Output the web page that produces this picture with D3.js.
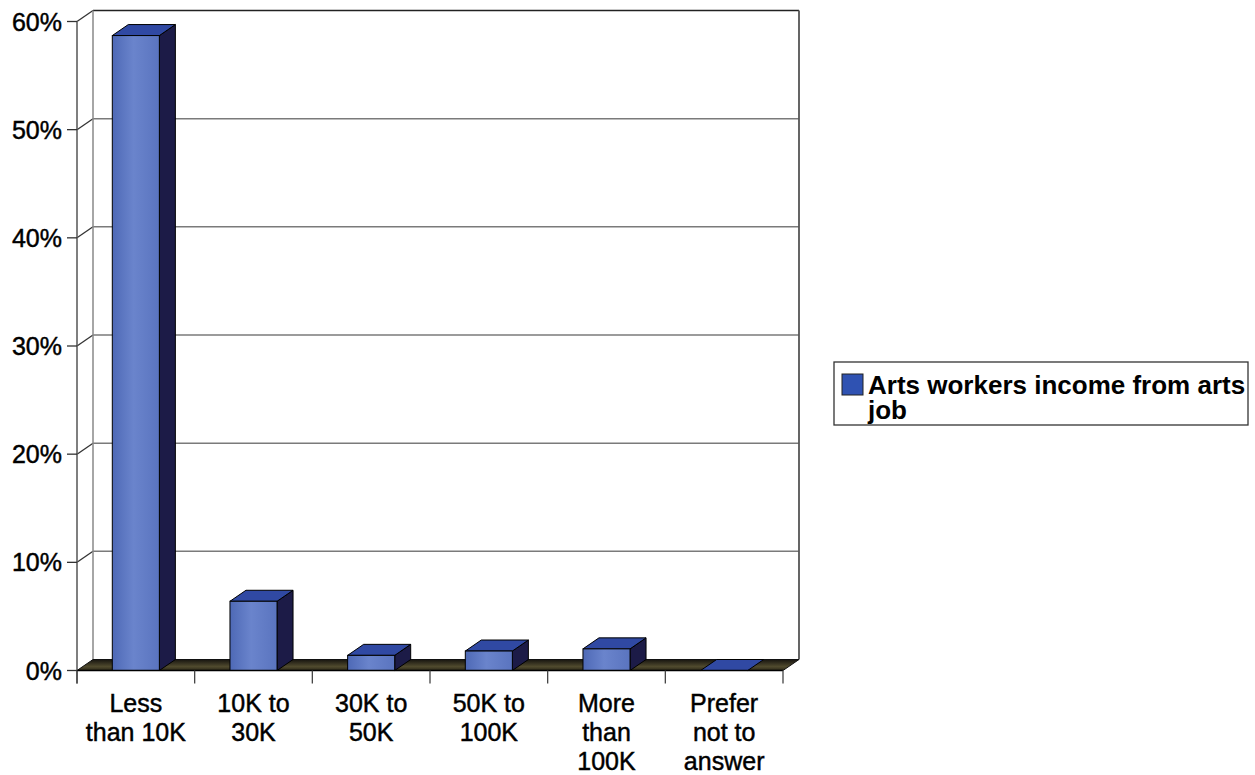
<!DOCTYPE html>
<html>
<head>
<meta charset="utf-8">
<script src="https://cdn.jsdelivr.net/npm/d3@7/dist/d3.min.js"></script>
<style>
  html, body { margin: 0; padding: 0; background: #ffffff; }
  svg { display: block; }
  text { font-family: "Liberation Sans", Arial, Helvetica, sans-serif; fill: #000; }
  .lbl { stroke: #000; stroke-width: 0.45px; }
</style>
</head>
<body>
<svg id="chart" width="1255" height="775"></svg>
<script>
// Income bands and the share of arts workers in each (percent)
const categories = [
  ["Less", "than 10K"],
  ["10K to", "30K"],
  ["30K to", "50K"],
  ["50K to", "100K"],
  ["More", "than", "100K"],
  ["Prefer", "not to", "answer"]
];
const values = [58.7, 6.4, 1.4, 1.8, 2.0, 0];
const yTicks = [0, 10, 20, 30, 40, 50, 60];
const seriesName = ["Arts workers income from arts", "job"];

const svg = d3.select("#chart");
const defs = svg.append("defs");

// 3D depth offset of the back wall relative to the front plane
const DX = 16, DY = -11;

const keys = categories.map((c, i) => i);
const x = d3.scaleBand().domain(keys).range([77, 783]).padding(0);
const y = d3.scaleLinear().domain([0, 60]).range([670.5, 21.5]);
const barW = x.bandwidth() * 0.4;

// gradients
const frontGrad = defs.append("linearGradient").attr("id", "frontGrad")
  .attr("x1", "0%").attr("x2", "100%").attr("y1", "0%").attr("y2", "0%");
frontGrad.append("stop").attr("offset", "0%").attr("stop-color", "#4e69b6");
frontGrad.append("stop").attr("offset", "45%").attr("stop-color", "#6a84cc");
frontGrad.append("stop").attr("offset", "100%").attr("stop-color", "#5a74bf");

const floorGrad = defs.append("linearGradient").attr("id", "floorGrad")
  .attr("x1", "0%").attr("x2", "0%").attr("y1", "0%").attr("y2", "100%");
floorGrad.append("stop").attr("offset", "0%").attr("stop-color", "#171510");
floorGrad.append("stop").attr("offset", "65%").attr("stop-color", "#514b2e");
floorGrad.append("stop").attr("offset", "100%").attr("stop-color", "#2a2718");

const x0 = x.range()[0], x1 = x.range()[1];
const yb = v => y(v) + DY;   // back-wall y for a value

// back wall gridlines and side-wall diagonals
const grid = svg.append("g");
yTicks.filter(t => t > 0 && t < 60).forEach(t => {
  grid.append("line").attr("x1", x0 + DX).attr("x2", x1 + DX)
    .attr("y1", yb(t)).attr("y2", yb(t))
    .attr("stroke", "#7a7a7a").attr("stroke-width", 1.5);
});
yTicks.filter(t => t > 0).forEach(t => {
  grid.append("line").attr("x1", x0).attr("y1", y(t))
    .attr("x2", x0 + DX).attr("y2", yb(t))
    .attr("stroke", "#333").attr("stroke-width", 1.3);
});
// back wall frame
grid.append("line").attr("x1", x0 + DX).attr("x2", x1 + DX)
  .attr("y1", yb(60)).attr("y2", yb(60)).attr("stroke", "#222").attr("stroke-width", 1.5);
grid.append("line").attr("x1", x0 + DX).attr("x2", x0 + DX)
  .attr("y1", yb(60)).attr("y2", yb(0)).attr("stroke", "#888").attr("stroke-width", 1.5);
grid.append("line").attr("x1", x1 + DX).attr("x2", x1 + DX)
  .attr("y1", yb(60)).attr("y2", yb(0)).attr("stroke", "#555").attr("stroke-width", 1.8);

// floor
svg.append("path")
  .attr("d", `M${x0},${y(0)} L${x0 + DX},${yb(0)} L${x1 + DX},${yb(0)} L${x1},${y(0)} Z`)
  .attr("fill", "url(#floorGrad)").attr("stroke", "#111").attr("stroke-width", 1);

// bars
const bars = svg.append("g").selectAll("g").data(values).join("g");
bars.each(function (v, i) {
  const g = d3.select(this);
  const left = x(i) + (x.bandwidth() - barW) / 2;
  const right = left + barW;
  const top = y(v), bottom = y(0);
  // right side face
  if (v > 0) {
    g.append("path")
      .attr("d", `M${right},${bottom} L${right + DX},${bottom + DY} L${right + DX},${top + DY} L${right},${top} Z`)
      .attr("fill", "#1c1b47").attr("stroke", "#000").attr("stroke-width", 1);
  }
  // top face
  g.append("path")
    .attr("d", `M${left},${top} L${left + DX},${top + DY} L${right + DX},${top + DY} L${right},${top} Z`)
    .attr("fill", "#3049a3").attr("stroke", "#000").attr("stroke-width", 1);
  // front face
  if (v > 0) {
    g.append("rect").attr("x", left).attr("y", top)
      .attr("width", barW).attr("height", bottom - top)
      .attr("fill", "url(#frontGrad)").attr("stroke", "#000").attr("stroke-width", 1);
  }
});

// front value axis
const axisG = svg.append("g");
axisG.append("line").attr("x1", x0).attr("x2", x0).attr("y1", y(60)).attr("y2", y(0) + 13)
  .attr("stroke", "#555").attr("stroke-width", 1.5);
yTicks.forEach(t => {
  axisG.append("line").attr("x1", x0 - 10).attr("x2", x0).attr("y1", y(t)).attr("y2", y(t))
    .attr("stroke", "#333").attr("stroke-width", 1.3);
  axisG.append("text").attr("class", "lbl").attr("x", 62).attr("y", y(t) + 9)
    .attr("text-anchor", "end").style("font-size", "25px")
    .text(t + "%");
});

// category axis
axisG.append("line").attr("x1", x0).attr("x2", x1).attr("y1", y(0)).attr("y2", y(0))
  .attr("stroke", "#000").attr("stroke-width", 1.5);
d3.range(keys.length + 1).forEach(k => {
  const xx = x0 + k * x.bandwidth();
  axisG.append("line").attr("x1", xx).attr("x2", xx).attr("y1", y(0)).attr("y2", y(0) + 13)
    .attr("stroke", "#444").attr("stroke-width", 1.3);
});
categories.forEach((lines, i) => {
  const t = axisG.append("text").attr("class", "lbl").attr("text-anchor", "middle").style("font-size", "25px");
  lines.forEach((ln, j) => {
    t.append("tspan").attr("x", x(i) + x.bandwidth() / 2).attr("y", 712 + j * 29).text(ln);
  });
});

// legend
const lg = svg.append("g");
lg.append("rect").attr("x", 834).attr("y", 362).attr("width", 414).attr("height", 63)
  .attr("fill", "#fff").attr("stroke", "#333").attr("stroke-width", 1.3);
lg.append("rect").attr("x", 842).attr("y", 374).attr("width", 21).attr("height", 21)
  .attr("fill", "#2f52b2").attr("stroke", "#222").attr("stroke-width", 1);
const lt = lg.append("text").style("font-size", "26px").style("font-weight", "bold");
seriesName.forEach((ln, j) => {
  lt.append("tspan").attr("x", 868).attr("y", 394 + j * 25).text(ln);
});
</script>
</body>
</html>
